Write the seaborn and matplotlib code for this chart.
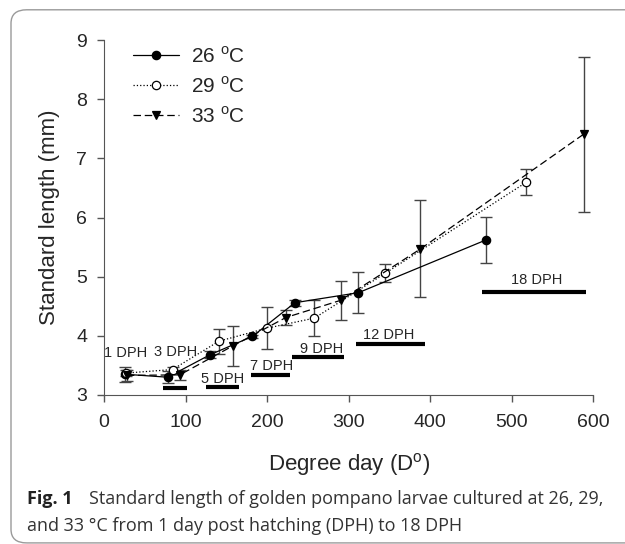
import matplotlib
matplotlib.use("Agg")
import matplotlib.pyplot as plt
import seaborn as sns
from matplotlib.patches import FancyBboxPatch

# -----------------------------
# Data
# -----------------------------
x26 = [26, 78, 130, 182, 234, 312, 468]
y26 = [3.35, 3.30, 3.68, 3.99, 4.56, 4.73, 5.62]
e26 = [0.13, 0.10, 0.06, 0.03, 0.05, 0.35, 0.39]

x29 = [27, 84, 141, 200, 258, 345, 518]
y29 = [3.37, 3.43, 3.91, 4.13, 4.30, 5.06, 6.60]
e29 = [0.05, 0.05, 0.21, 0.36, 0.30, 0.15, 0.22]

x33 = [28, 93, 158, 223, 290, 388, 588]
y33 = [3.33, 3.34, 3.83, 4.31, 4.60, 5.47, 7.41]
e33 = [0.10, 0.09, 0.34, 0.13, 0.33, 0.82, 1.31]

series_labels = ["26 $^{\\mathrm{o}}$C", "29 $^{\\mathrm{o}}$C", "33 $^{\\mathrm{o}}$C"]

# age bars (start, end, y)
bar_start = [72, 125, 180, 231, 309, 464]
bar_end = [102, 165, 228, 294, 393, 591]
bar_y = [3.11, 3.14, 3.33, 3.64, 3.87, 4.74]

# age labels (centre x, baseline y)
dph_labels = ["1 DPH", "3 DPH", "5 DPH", "7 DPH", "9 DPH", "12 DPH", "18 DPH"]
dph_x = [27, 88, 146, 206, 267, 349, 530]
dph_y = [3.64, 3.66, 3.20, 3.43, 3.71, 3.95, 4.87]

sns.set_style("ticks")
plt.rcParams["font.family"] = ["Liberation Sans", "DejaVu Sans"]
plt.rcParams["mathtext.fontset"] = "custom"
plt.rcParams["mathtext.rm"] = "Liberation Sans"

fig = plt.figure(figsize=(6.25, 5.44), dpi=100)
ax = fig.add_axes([0.1664, 0.274, 0.783, 0.652])

# -----------------------------
# Lines + error bars
# -----------------------------
styles = [
    (x26, y26, e26, "-", "o", "black"),
    (x29, y29, e29, ":", "o", "white"),
    (x33, y33, e33, (0, (6, 3)), "v", "black"),
]
handles = []
for (xs, ys, es, ls, mk, fc), lab in zip(styles, series_labels):
    ax.errorbar(xs, ys, yerr=es, fmt="none", ecolor="#444444",
                elinewidth=1.0, capsize=4, capthick=1.0, zorder=2)
    sns.lineplot(x=xs, y=ys, ax=ax, color="black", linewidth=0.9,
                 linestyle=ls, marker=mk, markersize=6,
                 markerfacecolor=fc, markeredgecolor="black",
                 markeredgewidth=0.9, sort=False, zorder=3)
    h, = ax.plot([], [], color="black", linewidth=0.9, linestyle=ls,
                 marker=mk, markersize=6, markerfacecolor=fc,
                 markeredgecolor="black", markeredgewidth=0.9)
    handles.append(h)

# -----------------------------
# DPH bars
# -----------------------------
for x0, x1, yb in zip(bar_start, bar_end, bar_y):
    ax.plot([x0, x1], [yb, yb], color="black", linewidth=3,
            solid_capstyle="butt", zorder=1)
for lab, lx, ly in zip(dph_labels, dph_x, dph_y):
    ax.text(lx, ly, lab, ha="center", va="baseline", fontsize=10.5)

ax.set_xlim(0, 600)
ax.set_ylim(3, 9)
ax.set_xticks(range(0, 601, 100))
ax.set_yticks(range(3, 10))
ax.tick_params(labelsize=14, length=5, width=1, color="#555555")
ax.tick_params(axis="x", pad=9)
ax.tick_params(axis="y", pad=7)
for sp in ["left", "bottom"]:
    ax.spines[sp].set_color("#555555")
sns.despine(ax=ax)

ax.set_ylabel("Standard length (mm)", fontsize=16, labelpad=12)
ax.set_xlabel("Degree day (D$^{\\mathrm{o}}$)", fontsize=16, labelpad=14)

ax.legend(handles, series_labels, loc="upper left",
          bbox_to_anchor=(0.059, 0.985), frameon=False, fontsize=15,
          borderpad=0, borderaxespad=0,
          handlelength=2.2, labelspacing=0.45, handletextpad=0.6)

# -----------------------------
# Caption + frame
# -----------------------------
frame = FancyBboxPatch((0.0176, 0.002), 1.1, 0.98,
                       boxstyle="round,pad=0,rounding_size=0.025",
                       transform=fig.transFigure, fill=False,
                       edgecolor="#9a9a9a", linewidth=1.0)
fig.patches.append(frame)

cap_font = ["Open Sans", "DejaVu Sans"]
fig.text(0.043, 0.083, "Fig. 1", fontsize=13, fontweight="bold",
         family=cap_font, color="#222222", va="center")
fig.text(0.142, 0.083,
         "Standard length of golden pompano larvae cultured at 26, 29,",
         fontsize=13, family=cap_font, color="#333333", va="center")
fig.text(0.043, 0.033,
         "and 33 \u00b0C from 1 day post hatching (DPH) to 18 DPH",
         fontsize=13, family=cap_font, color="#333333", va="center")

fig.savefig("out.png", dpi=100)
